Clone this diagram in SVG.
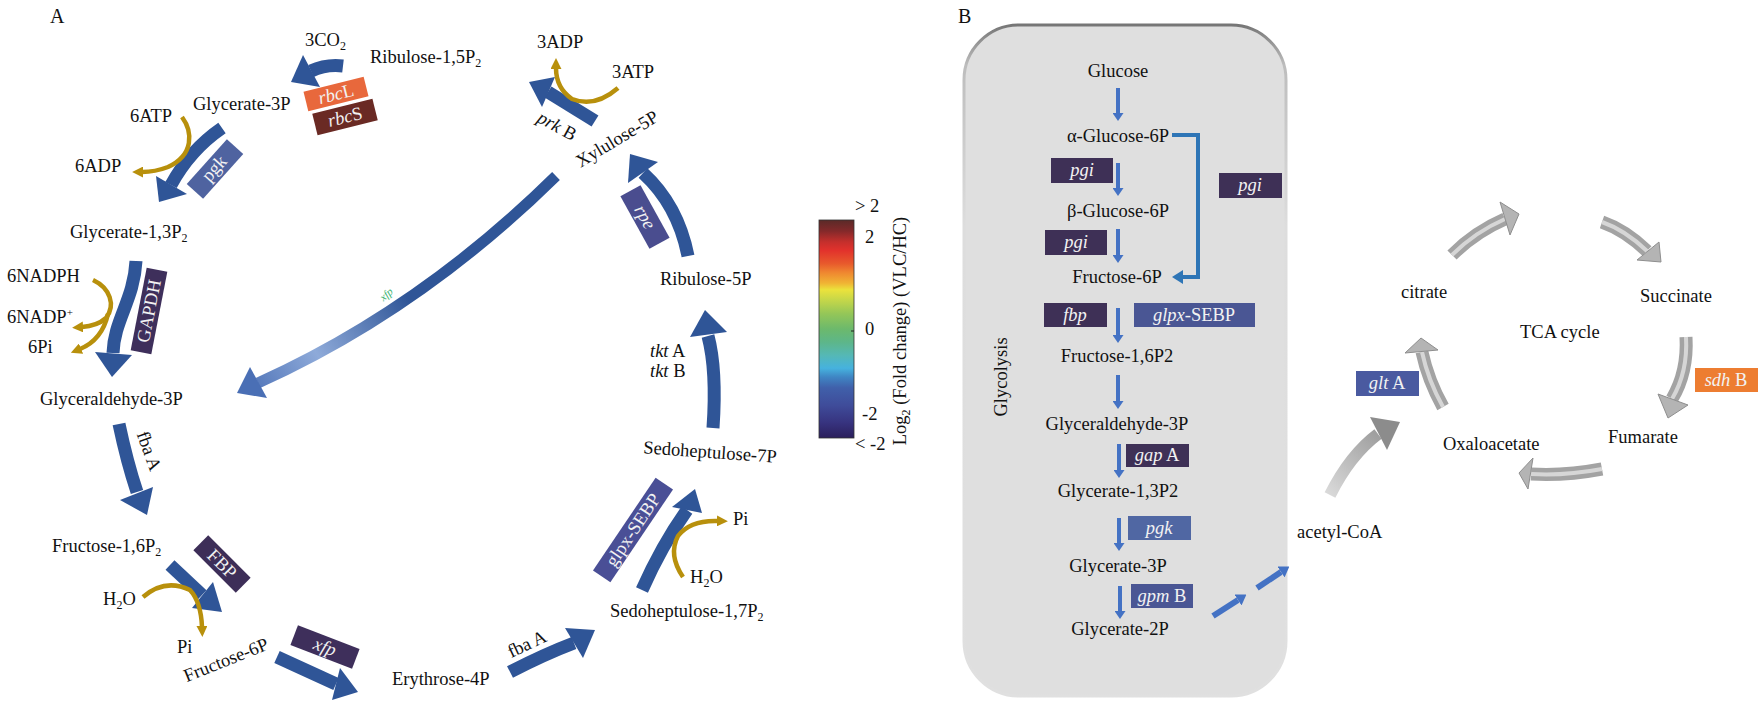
<svg xmlns="http://www.w3.org/2000/svg" width="1761" height="704" viewBox="0 0 1761 704">
<defs>
<style>
text{font-family:"Liberation Serif","Times New Roman",serif;font-size:18.5px;fill:#111}
.bt{fill:#f2f2f2;text-anchor:middle}
.mid{text-anchor:middle}
.it{font-style:italic}
.shaft{fill:none;stroke:#2f5597;stroke-width:13}
.head{fill:#2f5597}
.gold{fill:none;stroke:#b8900c;stroke-width:4.5;marker-end:url(#goldHead)}
.bv{stroke:#4472c4;stroke-width:4;marker-end:url(#blueHead)}
.tcaS{fill:none;stroke:#a3a3a3;stroke-width:13}
.tcaH{fill:none;stroke:#d6d6d6;stroke-width:4}
.tcaP{fill:#b4b4b4;stroke:#8e8e8e;stroke-width:1}
.dp{fill:#3e3056}
.mb{fill:#4a5694}
</style>
<marker id="goldHead" viewBox="0 0 10 10" refX="1" refY="5" markerWidth="11" markerHeight="11" markerUnits="userSpaceOnUse" orient="auto"><path d="M0,0 L10,5 L0,10 z" fill="#b8900c"/></marker>
<marker id="blueHead" viewBox="0 0 10 10" refX="0" refY="5" markerWidth="8" markerHeight="11" markerUnits="userSpaceOnUse" orient="auto" preserveAspectRatio="none"><path d="M0,0 L10,5 L0,10 z" fill="#4472c4"/></marker>
<marker id="dashHead" viewBox="0 0 10 10" refX="0" refY="5" markerWidth="10" markerHeight="13" markerUnits="userSpaceOnUse" orient="auto" preserveAspectRatio="none"><path d="M0,0 L10,5 L0,10 z" fill="#4472c4"/></marker>
<linearGradient id="cbar" x1="0" y1="0" x2="0" y2="1">
<stop offset="0" stop-color="#5a2a28"/><stop offset="0.05" stop-color="#83292a"/><stop offset="0.1" stop-color="#c42f2c"/><stop offset="0.14" stop-color="#e2322c"/><stop offset="0.2" stop-color="#e85a2c"/><stop offset="0.24" stop-color="#ef8630"/><stop offset="0.29" stop-color="#f0b434"/><stop offset="0.32" stop-color="#ebe23c"/><stop offset="0.37" stop-color="#c3d64a"/><stop offset="0.43" stop-color="#94c658"/><stop offset="0.5" stop-color="#6cb96c"/><stop offset="0.56" stop-color="#5db689"/><stop offset="0.62" stop-color="#55b8b5"/><stop offset="0.68" stop-color="#46b2de"/><stop offset="0.72" stop-color="#3f86c4"/><stop offset="0.77" stop-color="#4060aa"/><stop offset="0.85" stop-color="#3f4c9a"/><stop offset="0.93" stop-color="#37337f"/><stop offset="1" stop-color="#2b1f5c"/>
</linearGradient>
<linearGradient id="longG" gradientUnits="userSpaceOnUse" x1="556" y1="176" x2="240" y2="390">
<stop offset="0" stop-color="#2f5597"/><stop offset="0.5" stop-color="#2f5597"/><stop offset="0.78" stop-color="#8eaad9"/><stop offset="1" stop-color="#4a6fb5"/>
</linearGradient>
<linearGradient id="acG" gradientUnits="userSpaceOnUse" x1="1330" y1="495" x2="1400" y2="422">
<stop offset="0" stop-color="#d9d9d9"/><stop offset="1" stop-color="#8c8c8c"/>
</linearGradient>
<linearGradient id="boxStroke" x1="0" y1="0" x2="0" y2="1">
<stop offset="0" stop-color="#767676"/><stop offset="0.06" stop-color="#bdbdbd"/><stop offset="0.3" stop-color="#dddddd"/><stop offset="1" stop-color="#e0e0e0"/>
</linearGradient>
</defs>
<rect width="1761" height="704" fill="#ffffff"/>

<g id="glycolysis-box">
<rect x="964" y="25" width="322" height="671" rx="55" ry="55" fill="#dfdfdf" stroke="url(#boxStroke)" stroke-width="3"/>
</g>

<g id="connectors">
<path class="shaft" d="M343,66 Q326,64 311,71" stroke-width="13"/>
<polygon class="head" points="303,55 291,82 320,87"/>
<path class="shaft" d="M222,128 Q190,150 171,185"/>
<polygon class="head" points="156,176 159,202 187,194"/>
<path class="shaft" d="M136,261 C134,300 114,320 113,353"/>
<polygon class="head" points="95,352 112,377 132,355"/>
<path class="shaft" d="M119,424 Q127,462 137,492"/>
<polygon class="head" points="120,500 147,515 153,487"/>
<path class="shaft" d="M170,565 L202,595"/>
<polygon class="head" points="192,608 222,612 213,582"/>
<path class="shaft" d="M277,657 L336,684"/>
<polygon class="head" points="340,668 358,692 332,700"/>
<path class="shaft" d="M510,672 Q545,654 574,643" stroke-width="12"/>
<polygon class="head" points="565,628 595,630 583,658"/>
<path class="shaft" d="M642,590 Q662,545 687,510"/>
<polygon class="head" points="672,507 695,489 702,513"/>
<path class="shaft" d="M713,428 Q717,370 708,336" stroke-width="12"/>
<polygon class="head" points="690,337 705,310 727,332"/>
<path class="shaft" d="M688,256 Q678,205 643,173" stroke-width="12"/>
<polygon class="head" points="628,183 630,154 658,162"/>
<path class="shaft" d="M595,121 L548,92"/>
<polygon class="head" points="555,77 529,82 542,107"/>
<path d="M556,176 Q420,310 258,383" fill="none" stroke="url(#longG)" stroke-width="11"/>
<polygon points="250,367 237,393 267,398" fill="#4a6fb5"/>
<path class="gold" d="M182,117 C193,132 194,155 168,167 Q155,172 142,172"/>
<path class="gold" d="M93,280 C110,288 116,305 106,318 Q97,326 82,327"/>
<path class="gold" d="M108,314 Q102,340 80,349"/>
<path class="gold" d="M143,597 Q165,578 190,590 Q201,602 202,627"/>
<path class="gold" d="M683,577 Q668,555 678,536 Q690,520 718,521"/>
<path class="gold" d="M618,88 Q595,108 572,99 Q556,88 556,68"/>
<line class="bv" x1="1118" y1="88" x2="1118" y2="113"/>
<line class="bv" x1="1118" y1="163" x2="1118" y2="188"/>
<line class="bv" x1="1118" y1="229" x2="1118" y2="255"/>
<line class="bv" x1="1118" y1="308" x2="1118" y2="335"/>
<line class="bv" x1="1118" y1="375" x2="1118" y2="401"/>
<line class="bv" x1="1119" y1="444" x2="1119" y2="470"/>
<line class="bv" x1="1119" y1="518" x2="1119" y2="543"/>
<line class="bv" x1="1120" y1="586" x2="1120" y2="611"/>
<path d="M1172,135 H1198 V277 H1183" fill="none" stroke="#2e75b6" stroke-width="4"/>
<polygon points="1183,270 1172,277 1183,284" fill="#2e75b6"/>
<line x1="1213" y1="616" x2="1238" y2="600" stroke="#4472c4" stroke-width="6" marker-end="url(#dashHead)"/>
<line x1="1257" y1="588" x2="1281" y2="572" stroke="#4472c4" stroke-width="6" marker-end="url(#dashHead)"/>
<path d="M1330,495 Q1350,455 1378,434" fill="none" stroke="url(#acG)" stroke-width="12"/>
<polygon points="1370,417 1400,422 1387,450" fill="#8c8c8c"/>
<path class="tcaS" d="M1452,255 Q1475,232 1505,219"/><path class="tcaH" d="M1452,255 Q1475,232 1505,219"/>
<polygon class="tcaP" points="1500,202 1519,214 1510,235"/>
<path class="tcaS" d="M1602,222 Q1625,230 1647,251"/><path class="tcaH" d="M1602,222 Q1625,230 1647,251"/>
<polygon class="tcaP" points="1659,242 1661,262 1637,260"/>
<path class="tcaS" d="M1686,337 Q1688,372 1672,399"/><path class="tcaH" d="M1686,337 Q1688,372 1672,399"/>
<polygon class="tcaP" points="1658,394 1668,418 1688,405"/>
<path class="tcaS" d="M1602,469 Q1565,476 1531,474"/><path class="tcaH" d="M1602,469 Q1565,476 1531,474"/>
<polygon class="tcaP" points="1533,458 1519,473 1528,489"/>
<path class="tcaS" d="M1443,407 Q1428,380 1422,352"/><path class="tcaH" d="M1443,407 Q1428,380 1422,352"/>
<polygon class="tcaP" points="1405,353 1421,338 1438,350"/>
</g>

<g id="label-A"><text x="50" y="23" style="font-size:20px">A</text></g>
<g id="co2"><text x="305" y="46">3CO<tspan font-size="12" dy="4">2</tspan></text></g>
<g id="ribulose-15p2"><text x="370" y="63">Ribulose-1,5P<tspan font-size="12" dy="4">2</tspan></text></g>
<g id="rbcL"><g transform="translate(336,94) rotate(-14)"><rect x="-31" y="-10" width="62" height="20" fill="#e8683c"/><text class="bt" x="0" y="6"><tspan class="it">rbc</tspan>L</text></g></g>
<g id="rbcS"><g transform="translate(345,117) rotate(-14)"><rect x="-31" y="-11" width="62" height="22" fill="#6a2a24"/><text class="bt" x="0" y="6"><tspan class="it">rbc</tspan>S</text></g></g>
<g id="glycerate-3p"><text x="193" y="110">Glycerate-3P</text></g>
<g id="atp6"><text x="130" y="122">6ATP</text></g>
<g id="adp6"><text x="75" y="172">6ADP</text></g>
<g id="pgk-A"><g transform="translate(215,169) rotate(-48)"><rect x="-30" y="-11" width="60" height="22" fill="#4f63a0"/><text class="bt" x="0" y="5">pgk</text></g></g>
<g id="glycerate-13p2"><text x="70" y="238">Glycerate-1,3P<tspan font-size="12" dy="4">2</tspan></text></g>
<g id="nadph"><text x="7" y="282">6NADPH</text></g>
<g id="nadp"><text x="7" y="323">6NADP<tspan font-size="11" dy="-7">+</tspan></text></g>
<g id="pi6"><text x="28" y="353">6Pi</text></g>
<g id="gapdh"><g transform="translate(149,311) rotate(-79)"><rect x="-42" y="-10.5" width="84" height="21" fill="#3e2f5b"/><text class="bt" x="0" y="6">GAPDH</text></g></g>
<g id="glyceraldehyde-3p"><text x="40" y="405">Glyceraldehyde-3P</text></g>
<g id="fbaA-1"><text class="mid" transform="translate(149,451) rotate(70)" x="0" y="6">fba A</text></g>
<g id="fructose-16p2"><text x="52" y="552">Fructose-1,6P<tspan font-size="12" dy="4">2</tspan></text></g>
<g id="fbp-A"><g transform="translate(222,564) rotate(45)"><rect x="-30" y="-10.5" width="60" height="21" fill="#3d2e58"/><text class="bt" x="0" y="6">FBP</text></g></g>
<g id="h2o-1"><text x="103" y="605">H<tspan font-size="12" dy="4">2</tspan><tspan dy="-4">O</tspan></text></g>
<g id="pi-1"><text x="177" y="653">Pi</text></g>
<g id="fructose-6p"><text class="mid" transform="translate(226,660) rotate(-22)" x="0" y="6">Fructose-6P</text></g>
<g id="xfp-A"><g transform="translate(325,647) rotate(21)"><rect x="-33" y="-10.5" width="66" height="21" fill="#3e2f5b"/><text class="bt it" x="0" y="6">xfp</text></g></g>
<g id="erythrose-4p"><text x="392" y="685">Erythrose-4P</text></g>
<g id="fbaA-2"><text class="mid" transform="translate(527,644) rotate(-25)" x="0" y="6">fba A</text></g>
<g id="sedoheptulose-17p2"><text x="610" y="617">Sedoheptulose-1,7P<tspan font-size="12" dy="4">2</tspan></text></g>
<g id="glpx-A"><g transform="translate(633,530) rotate(-56)"><rect x="-56" y="-10.5" width="112" height="21" fill="#4a4f96"/><text class="bt" x="0" y="6">glpx-SEBP</text></g></g>
<g id="h2o-2"><text x="690" y="583">H<tspan font-size="12" dy="4">2</tspan><tspan dy="-4">O</tspan></text></g>
<g id="pi-2"><text x="733" y="525">Pi</text></g>
<g id="sedoheptulose-7p"><text class="mid" transform="translate(710,452) rotate(4)" x="0" y="6">Sedoheptulose-7P</text></g>
<g id="tkt"><text x="650" y="357"><tspan class="it">tkt</tspan> A</text><text x="650" y="377"><tspan class="it">tkt</tspan> B</text></g>
<g id="ribulose-5p"><text x="660" y="285">Ribulose-5P</text></g>
<g id="rpe"><g transform="translate(645,217) rotate(61)"><rect x="-30" y="-11.5" width="60" height="23" fill="#4a4d8f"/><text class="bt it" x="0" y="6">rpe</text></g></g>
<g id="xylulose-5p"><text class="mid" transform="translate(617,139) rotate(-31)" x="0" y="6">Xylulose-5P</text></g>
<g id="prkB"><text class="mid" transform="translate(557,126) rotate(29)" x="0" y="6"><tspan class="it">prk</tspan> B</text></g>
<g id="adp3"><text x="537" y="48">3ADP</text></g>
<g id="atp3"><text x="612" y="78">3ATP</text></g>
<g id="xfp-small"><text class="mid it" transform="translate(386,294) rotate(-40)" x="0" y="4" style="font-size:11px;fill:#3cb371">xfp</text></g>

<g id="colorbar">
<rect x="819" y="220" width="35" height="218" fill="url(#cbar)" stroke="#333" stroke-width="0.8"/>
<line x1="851" y1="331" x2="854" y2="331" stroke="#222" stroke-width="1"/>
<text x="855" y="212">&gt; 2</text>
<text x="865" y="243">2</text>
<text x="865" y="335">0</text>
<text x="862" y="420">-2</text>
<text x="855" y="450">&lt; -2</text>
<text class="mid" transform="translate(900,331) rotate(-90)" x="0" y="6">Log<tspan font-size="12" dy="4">2</tspan><tspan dy="-4"> (Fold change) (VLC/HC)</tspan></text>
</g>

<g id="label-B"><text x="958" y="23" style="font-size:20px">B</text></g>
<g id="glycolysis-label"><text class="mid" transform="translate(1001,377) rotate(-90)" x="0" y="6">Glycolysis</text></g>
<g id="glucose"><text class="mid" x="1118" y="77">Glucose</text></g>
<g id="a-glucose-6p"><text class="mid" x="1118" y="142">α-Glucose-6P</text></g>
<g id="pgi-1"><rect x="1051" y="158" width="62" height="25" class="dp"/><text class="bt it" x="1082" y="176">pgi</text></g>
<g id="b-glucose-6p"><text class="mid" x="1118" y="217">β-Glucose-6P</text></g>
<g id="pgi-2"><rect x="1045" y="230" width="62" height="25" class="dp"/><text class="bt it" x="1076" y="248">pgi</text></g>
<g id="pgi-3"><rect x="1219" y="173" width="63" height="25" class="dp"/><text class="bt it" x="1250" y="191">pgi</text></g>
<g id="fructose-6p-B"><text class="mid" x="1117" y="283">Fructose-6P</text></g>
<g id="fbp-B"><rect x="1044" y="303" width="63" height="24" class="dp"/><text class="bt it" x="1075" y="321">fbp</text></g>
<g id="glpx-B"><rect x="1134" y="303" width="121" height="24" class="mb"/><text class="bt" x="1194" y="321"><tspan class="it">glpx</tspan>-SEBP</text></g>
<g id="fructose-16p2-B"><text class="mid" x="1117" y="362">Fructose-1,6P2</text></g>
<g id="glyceraldehyde-3p-B"><text class="mid" x="1117" y="430">Glyceraldehyde-3P</text></g>
<g id="gapA"><rect x="1126" y="444" width="63" height="23" class="dp"/><text class="bt" x="1157" y="461"><tspan class="it">gap</tspan> A</text></g>
<g id="glycerate-13p2-B"><text class="mid" x="1118" y="497">Glycerate-1,3P2</text></g>
<g id="pgk-B"><rect x="1128" y="516" width="63" height="24" fill="#5067a3"/><text class="bt it" x="1159" y="534">pgk</text></g>
<g id="glycerate-3p-B"><text class="mid" x="1118" y="572">Glycerate-3P</text></g>
<g id="gpmB"><rect x="1131" y="584" width="62" height="24" class="mb"/><text class="bt" x="1162" y="602"><tspan class="it">gpm</tspan> B</text></g>
<g id="glycerate-2p-B"><text class="mid" x="1120" y="635">Glycerate-2P</text></g>
<g id="acetyl-coa"><text x="1297" y="538">acetyl-CoA</text></g>
<g id="gltA"><rect x="1356" y="371" width="63" height="25" fill="#4a5aa0"/><text class="bt" x="1387" y="389"><tspan class="it">glt</tspan> A</text></g>
<g id="citrate"><text x="1401" y="298">citrate</text></g>
<g id="succinate"><text x="1640" y="302">Succinate</text></g>
<g id="tca-label"><text x="1520" y="338">TCA cycle</text></g>
<g id="sdhB"><rect x="1695" y="368" width="63" height="24" fill="#ed7d31"/><text class="bt" x="1726" y="386"><tspan class="it">sdh</tspan> B</text></g>
<g id="fumarate"><text x="1608" y="443">Fumarate</text></g>
<g id="oxaloacetate"><text x="1443" y="450">Oxaloacetate</text></g>
</svg>
